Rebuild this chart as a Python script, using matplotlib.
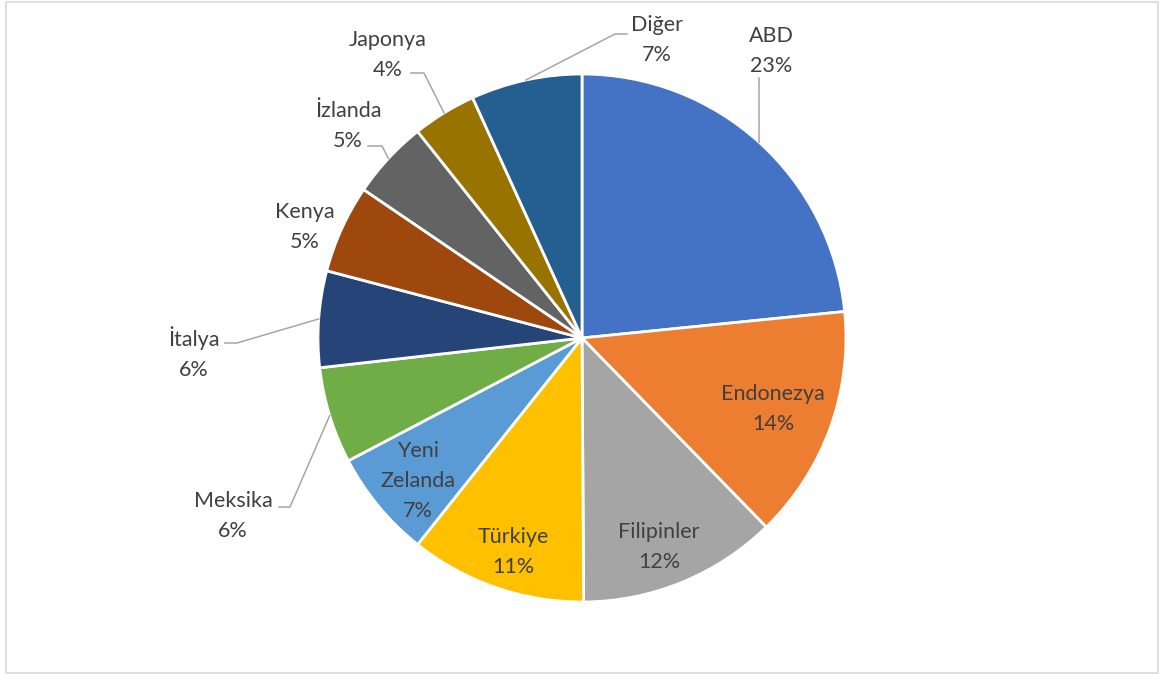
import numpy as np
import matplotlib
matplotlib.use("Agg")
import matplotlib.pyplot as plt
from matplotlib.patches import Rectangle

# data (clockwise from 12 o'clock)
countries = ["ABD", "Endonezya", "Filipinler", "Türkiye", "Yeni\nZelanda",
             "Meksika", "İtalya", "Kenya", "İzlanda", "Japonya", "Diğer"]
shares = [23.4, 14.3, 12.2, 10.8, 6.6, 5.9, 5.9, 5.4, 4.8, 3.9, 6.8]
colors = ["#4472C4", "#ED7D31", "#A5A5A5", "#FFC000", "#5B9BD5", "#70AD47",
          "#264478", "#9E480E", "#636363", "#997300", "#255E91"]

W, H = 1162, 674
CX, CY, R = 582, 338, 264

# label layout in pixels: text block centre, then leader elbow and end (None = no leader)
label_pos = {
    "ABD": ((771, 51), [(759, 78)]),
    "Endonezya": ((773, 409), None),
    "Filipinler": ((659, 547), None),
    "Türkiye": ((513, 552), None),
    "Yeni\nZelanda": ((418, 481), None),
    "Meksika": ((233, 516), [(290, 507), (279, 507)]),
    "İtalya": ((194, 353), [(237, 343), (225, 343)]),
    "Kenya": ((305, 227), None),
    "İzlanda": ((348, 126), [(382, 146), (368, 146)]),
    "Japonya": ((388, 55), [(424, 73), (411, 73)]),
    "Diğer": ((657, 40), [(615, 34), (627, 34)]),
}


def to_data(px, py):
    return (px - CX) / R, (CY - py) / R


plt.rcParams["font.family"] = ["Lato", "DejaVu Sans"]

fig = plt.figure(figsize=(W / 100, H / 100), dpi=100)
ax = fig.add_axes([(CX - R) / W, (H - CY - R) / H, 2 * R / W, 2 * R / H])

wedges, _ = ax.pie(shares, colors=colors, startangle=90, counterclock=False,
                   radius=1, wedgeprops=dict(edgecolor="white", linewidth=2))
ax.set_xlim(-1, 1)
ax.set_ylim(-1, 1)
ax.set_aspect("equal")
ax.axis("off")

for name, val, w in zip(countries, shares, wedges):
    (tx, ty), leader = label_pos[name]
    x, y = to_data(tx, ty)
    ax.text(x, y, f"{name}\n{round(val)}%", ha="center", va="center",
            fontsize=15.5, color="#404040", linespacing=1.6, clip_on=False)
    if leader:
        mid = np.deg2rad((w.theta1 + w.theta2) / 2)
        xs = [np.cos(mid)] + [to_data(*p)[0] for p in leader]
        ys = [np.sin(mid)] + [to_data(*p)[1] for p in leader]
        ax.plot(xs, ys, color="#A6A6A6", linewidth=1.1, clip_on=False)

# chart border
fig.patches.append(Rectangle((6 / W, 1 / H), 1152 / W, 671 / H, transform=fig.transFigure,
                             fill=False, edgecolor="#D9D9D9", linewidth=1.2))

fig.savefig("out.png", dpi=100)
